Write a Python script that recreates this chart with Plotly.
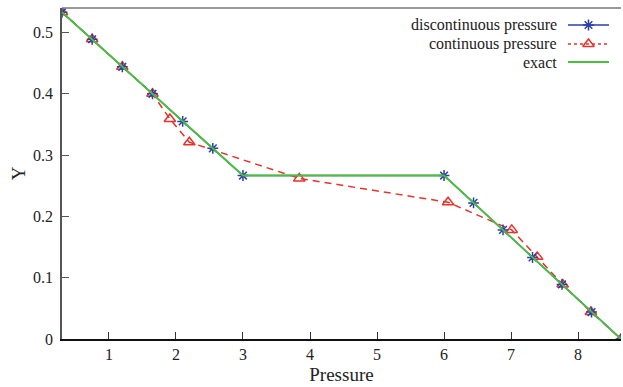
import plotly.graph_objects as go

# ---- data ----
disc_x = [0.3, 0.75, 1.2, 1.65, 2.1, 2.55, 3.0, 6.0, 6.44, 6.88, 7.32, 7.76, 8.2, 8.64]
disc_y = [0.533, 0.489, 0.444, 0.400, 0.355, 0.311, 0.2667, 0.2667, 0.222, 0.178, 0.133, 0.089, 0.044, 0.0]

cont_x = [0.3, 0.75, 1.2, 1.65, 1.91, 2.2, 3.84, 6.06, 7.01, 7.39, 7.77, 8.19, 8.64]
cont_y = [0.533, 0.489, 0.444, 0.400, 0.359, 0.321, 0.262, 0.223, 0.178, 0.134, 0.089, 0.044, 0.0]

exact_x = [0.3, 3.0, 6.0, 8.64]
exact_y = [0.533, 0.2667, 0.2667, 0.0]

x_ticks = [1, 2, 3, 4, 5, 6, 7, 8]
y_ticks = [0, 0.1, 0.2, 0.3, 0.4, 0.5]
y_tick_labels = ["0", "0.1", "0.2", "0.3", "0.4", "0.5"]

series_names = ["discontinuous pressure", "continuous pressure", "exact"]

BLUE = "#2b3fa6"
RED = "#e8322b"
GREEN = "#4cbf3f"
FONT = "'Liberation Serif', 'Times New Roman', Times, 'DejaVu Serif', serif"

fig = go.Figure()

fig.add_trace(go.Scatter(x=cont_x, y=cont_y, mode="lines+markers", name=series_names[1],
                         line=dict(color=RED, width=1.5, dash="7px,5px"),
                         marker=dict(symbol="triangle-up-open", size=10, color=RED,
                                     line=dict(width=1.5, color=RED)),
                         showlegend=False))
fig.add_trace(go.Scatter(x=disc_x, y=disc_y, mode="lines+markers", name=series_names[0],
                         line=dict(color=BLUE, width=1.5),
                         marker=dict(symbol="asterisk-open", size=9, color=BLUE,
                                     line=dict(width=1.5, color=BLUE)),
                         showlegend=False))
fig.add_trace(go.Scatter(x=exact_x, y=exact_y, mode="lines", name=series_names[2],
                         line=dict(color=GREEN, width=1.8), showlegend=False))

# ---- legend drawn on an overlay axis measured in pixels ----
leg_rows = [25, 44, 62]
leg_x0, leg_x1, leg_text_x = 568, 609, 559
styles = [
    dict(line=dict(color=BLUE, width=1.5),
         marker=dict(symbol="asterisk-open", size=9, color=BLUE, line=dict(width=1.5, color=BLUE))),
    dict(line=dict(color=RED, width=1.5, dash="3px,3px"),
         marker=dict(symbol="triangle-up-open", size=10, color=RED, line=dict(width=1.5, color=RED))),
    dict(line=dict(color=GREEN, width=1.8)),
]
for i, (name, yrow, st) in enumerate(zip(series_names, leg_rows, styles)):
    fig.add_trace(go.Scatter(x=[leg_x0, leg_x1], y=[yrow, yrow], mode="lines", xaxis="x2", yaxis="y2",
                             line=st["line"], showlegend=False, hoverinfo="skip"))
    if "marker" in st:
        fig.add_trace(go.Scatter(x=[(leg_x0 + leg_x1) / 2], y=[yrow], mode="markers", xaxis="x2", yaxis="y2",
                                 marker=st["marker"], showlegend=False, hoverinfo="skip"))
    fig.add_annotation(x=leg_text_x, y=yrow, xref="x2", yref="y2", text=name, showarrow=False,
                       xanchor="right", yanchor="middle",
                       font=dict(family=FONT, size=16, color="#222"))

fig.update_layout(
    width=623, height=387,
    margin=dict(l=62, r=2, t=8, b=48),
    paper_bgcolor="white", plot_bgcolor="white",
    font=dict(family=FONT, size=16, color="#222"),
    xaxis=dict(range=[0.3, 8.64], tickvals=x_ticks, ticks="inside", ticklen=7, tickcolor="#333",
               showline=True, linecolor="#111", linewidth=1.5, showgrid=False, zeroline=False,
               tickfont=dict(family=FONT, size=16, color="#222"),
               title=dict(text="Pressure", font=dict(family=FONT, size=19, color="#222"), standoff=6)),
    yaxis=dict(range=[0, 0.54], tickvals=y_ticks, ticktext=y_tick_labels, ticks="inside", ticklen=7,
               tickcolor="#555", showline=True, linecolor="#555", linewidth=1.5, showgrid=False,
               zeroline=False, ticklabelstandoff=4,
               tickfont=dict(family=FONT, size=16, color="#222"),
               title=dict(text="Y", font=dict(family=FONT, size=19, color="#222"), standoff=2)),
    xaxis2=dict(range=[62, 621], overlaying="x", visible=False, fixedrange=True),
    yaxis2=dict(range=[339, 8], overlaying="y", visible=False, fixedrange=True),
    shapes=[dict(type="line", xref="paper", yref="paper", x0=0, x1=1, y0=1, y1=1,
                 line=dict(color="#777", width=1.5))],
)

fig.write_html("out.html")
